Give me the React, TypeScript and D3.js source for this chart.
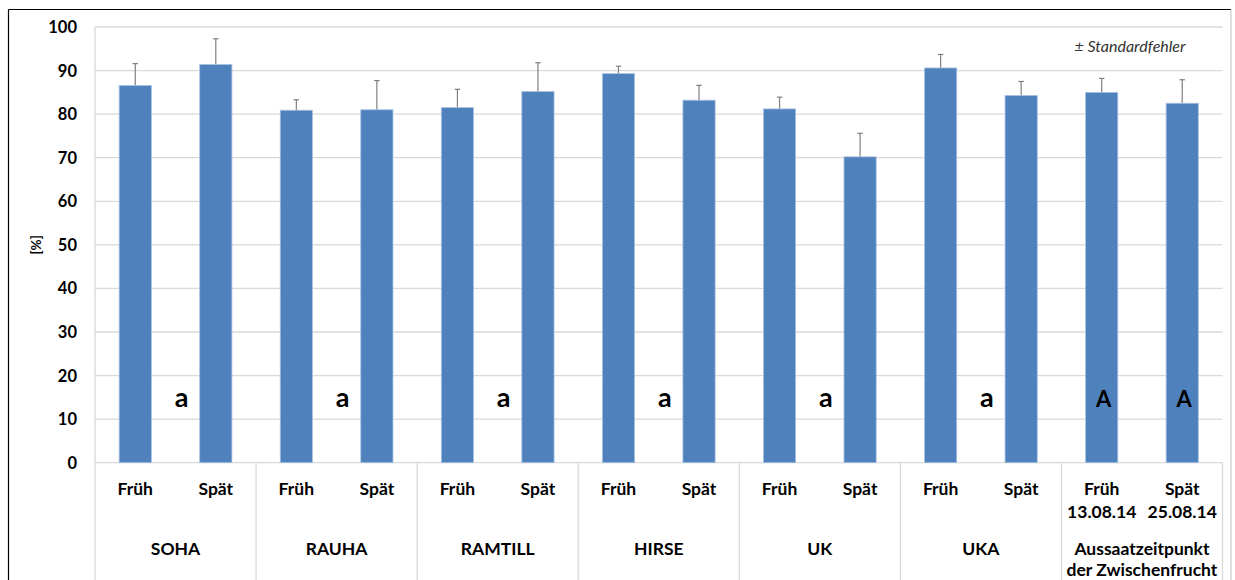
import React from "react";
import * as d3 from "d3";

const groups = ["SOHA", "RAUHA", "RAMTILL", "HIRSE", "UK", "UKA", "Aussaatzeitpunkt|der Zwischenfrucht"];
const subLabels = ["Früh", "Spät", "Früh", "Spät", "Früh", "Spät", "Früh", "Spät", "Früh", "Spät", "Früh", "Spät", "Früh|13.08.14", "Spät|25.08.14"];
const values = [86.6, 91.4, 80.9, 81.0, 81.5, 85.2, 89.3, 83.2, 81.2, 70.2, 90.6, 84.3, 85.0, 82.5];
const errors = [5.0, 5.9, 2.4, 6.7, 4.2, 6.6, 1.7, 3.4, 2.7, 5.4, 3.1, 3.2, 3.2, 5.4];
const letters = ["a", "a", "a", "a", "a", "a"];
const totalLetters = ["A", "A"];
const yTicks = [0, 10, 20, 30, 40, 50, 60, 70, 80, 90, 100];

const FONT = "Lato, 'Open Sans', sans-serif";

export default function App() {
  const left = 95;
  const right = 1222.5;
  const top = 27;
  const bottom = 462.7;
  const idx = values.map((_, i) => String(i));
  const x = d3.scaleBand<string>().domain(idx).range([left, right]).paddingInner(0).paddingOuter(0);
  const y = d3.scaleLinear().domain([0, 100]).range([bottom, top]);
  const bw = x.bandwidth();
  const barW = bw * 0.4;
  const groupW = bw * 2;

  return (
    <svg width={1235} height={580} style={{ position: "absolute", left: 0, top: 0, background: "#fff" }}>
      {/* outer frame */}
      <line x1={8.5} x2={1231} y1={9.5} y2={9.5} stroke="#000" strokeWidth={1.2} />
      <line x1={8.5} x2={8.5} y1={9.5} y2={580} stroke="#000" strokeWidth={1.2} />
      <line x1={1231} x2={1231} y1={9.5} y2={580} stroke="#bfbfbf" strokeWidth={1} />

      {/* gridlines */}
      {yTicks.map((t) => (
        <line key={"g" + t} x1={left} x2={right} y1={y(t)} y2={y(t)} stroke="#d9d9d9" strokeWidth={1.3} />
      ))}
      <line x1={left} x2={left} y1={top} y2={bottom} stroke="#d9d9d9" strokeWidth={1.3} />

      {/* y tick labels */}
      {yTicks.map((t) => (
        <text key={"t" + t} x={77} y={y(t)} dy="0.36em" textAnchor="end" fontFamily={FONT} fontWeight={700} fontSize={16.5} fill="#000">
          {t}
        </text>
      ))}
      <text transform={`translate(36,${(top + bottom) / 2}) rotate(-90)`} textAnchor="middle" dy="0.35em" fontFamily={FONT} fontWeight={700} fontSize={13.5} fill="#000">
        [%]
      </text>

      {/* bars */}
      {values.map((v, i) => {
        const cx = (x(String(i)) as number) + bw / 2;
        return (
          <g key={"b" + i}>
            <line x1={cx} x2={cx} y1={y(v)} y2={y(v + errors[i])} stroke="#7f7f7f" strokeWidth={1.2} />
            <line x1={cx - 2.7} x2={cx + 2.7} y1={y(v + errors[i])} y2={y(v + errors[i])} stroke="#7f7f7f" strokeWidth={1.2} />
            <rect x={cx - barW / 2} y={y(v)} width={barW} height={bottom - y(v)} fill="#4f81bd" stroke="#a9c2e2" strokeWidth={0.8} />
          </g>
        );
      })}

      {/* significance letters */}
      {letters.map((l, g) => (
        <text key={"l" + g} x={left + groupW * g + groupW / 2 + 6} y={407} textAnchor="middle" fontFamily={FONT} fontWeight={700} fontSize={27} fill="#000">
          {l}
        </text>
      ))}
      {totalLetters.map((l, k) => {
        const cx = (x(String(12 + k)) as number) + bw / 2 + 2;
        return (
          <text key={"L" + k} x={cx} y={407} textAnchor="middle" fontFamily={FONT} fontWeight={700} fontSize={22} fill="#000">
            {l}
          </text>
        );
      })}

      <text x={1130} y={46} dy="0.35em" textAnchor="middle" fontFamily={FONT} fontStyle="italic" fontSize={16} fill="#333">
        ± Standardfehler
      </text>

      {/* category separators */}
      {d3.range(groups.length + 1).map((k) => (
        <line key={"s" + k} x1={left + groupW * k} x2={left + groupW * k} y1={bottom} y2={580} stroke="#d9d9d9" strokeWidth={1.3} />
      ))}

      {/* sub labels */}
      {subLabels.map((s, i) => {
        const cx = (x(String(i)) as number) + bw / 2;
        return s.split("|").map((part, j) => (
          <text key={"sl" + i + j} x={cx} y={488.5 + j * 23.5} dy="0.35em" textAnchor="middle" fontFamily={FONT} fontWeight={700} fontSize={17.5} fill="#000">
            {part}
          </text>
        ));
      })}

      {/* group labels */}
      {groups.map((g, k) => {
        const cx = left + groupW * k + groupW / 2;
        return g.split("|").map((part, j) => (
          <text key={"gl" + k + j} x={cx} y={549 + j * 21} dy="0.35em" textAnchor="middle" fontFamily={FONT} fontWeight={700} fontSize={17.5} fill="#000">
            {part}
          </text>
        ));
      })}
    </svg>
  );
}
